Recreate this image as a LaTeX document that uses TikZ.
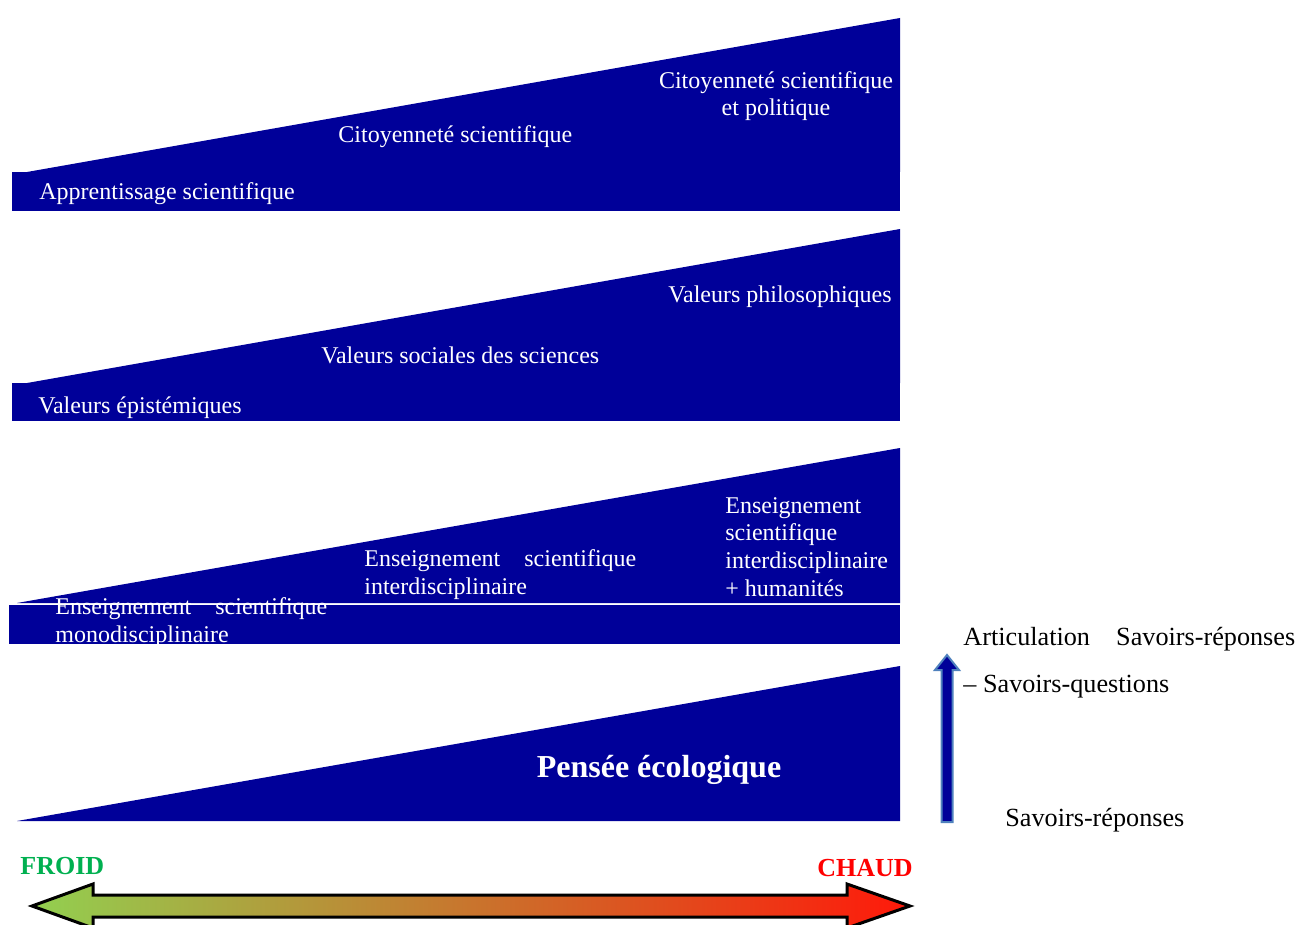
\documentclass[tikz,border=0pt]{standalone}
\usepackage{fontspec}
\setmainfont{Liberation Serif}
\usepackage{tikz}
\definecolor{navy}{RGB}{0,0,153}
\definecolor{froid}{RGB}{0,176,80}
\definecolor{vert}{RGB}{146,208,80}
\definecolor{ocre}{RGB}{208,160,60}
\definecolor{rouge}{RGB}{255,25,10}
\definecolor{contour}{RGB}{79,129,189}
\begin{document}
\begin{tikzpicture}[x=0.5pt,y=-0.5pt,
  lbl/.style={text=white,font=\fontsize{12}{13.8}\selectfont,inner sep=0pt,align=left,anchor=base west},
  side/.style={font=\fontsize{13.1}{15}\selectfont,inner sep=0pt,anchor=base west}]
\useasboundingbox (0,0) rectangle (1301,925);
\fill[navy] (27,172) -- (900,18) -- (900,172) -- cycle;
\fill[navy] (12,172) rectangle (900,211);
\node[lbl] (appr) at (39,200) {Apprentissage scientifique};
\node[lbl] (cit) at (338,143) {Citoyennet\'e scientifique};
\node[lbl,align=center,anchor=base] (citpol) at (776,116) {Citoyennet\'e scientifique\\et politique};
\fill[navy] (27,383) -- (900,229) -- (900,383) -- cycle;
\fill[navy] (12,383) rectangle (900,421);
\node[lbl] (epis) at (38,413) {Valeurs \'epist\'emiques};
\node[lbl] (soc) at (321,363) {Valeurs sociales des sciences};
\node[lbl] (philo) at (668,302) {Valeurs philosophiques};
\fill[navy] (17,603) -- (900,448) -- (900,603) -- cycle;
\fill[navy] (9,604.5) rectangle (900,644);
\begin{scope}
\clip (9,540) rectangle (900,644);
\node[lbl] (mono) at (55,642) {Enseignement\quad scientifique\\monodisciplinaire};
\end{scope}
\node[lbl] (inter) at (364,594) {Enseignement\quad scientifique\\interdisciplinaire};
\node[lbl] (hum) at (725,596) {Enseignement\\scientifique\\interdisciplinaire\\+ humanit\'es};
\fill[navy] (17,821) -- (900,666) -- (900,821) -- cycle;
\node[text=white,font=\fontsize{16}{19}\selectfont\bfseries,inner sep=0pt,anchor=base] (eco) at (659,777) {Pens\'ee \'ecologique};
\draw[contour,line width=1pt,fill=navy] (941.5,822) -- (941.5,670) -- (935,670) -- (947,655) -- (959,670) -- (952.5,670) -- (952.5,822) -- cycle;
\node[side] (artic) at (963,645) {Articulation\quad Savoirs-r\'eponses};
\node[side] (quest) at (963,692) {-- Savoirs-questions};
\node[side] (rep) at (1005,826) {Savoirs-r\'eponses};
\draw[line width=1.5pt,left color=vert,middle color=ocre,right color=rouge] (32,906) -- (93,884) -- (93,895) -- (847,895) -- (847,884) -- (910,906) -- (847,928) -- (847,917) -- (93,917) -- (93,928) -- cycle;
\node[side,text=froid,font=\fontsize{13}{15}\selectfont\bfseries] (froid) at (20,874) {FROID};
\node[side,text=red,font=\fontsize{13}{15}\selectfont\bfseries] (chaud) at (817,876) {CHAUD};
\end{tikzpicture}
\end{document}
